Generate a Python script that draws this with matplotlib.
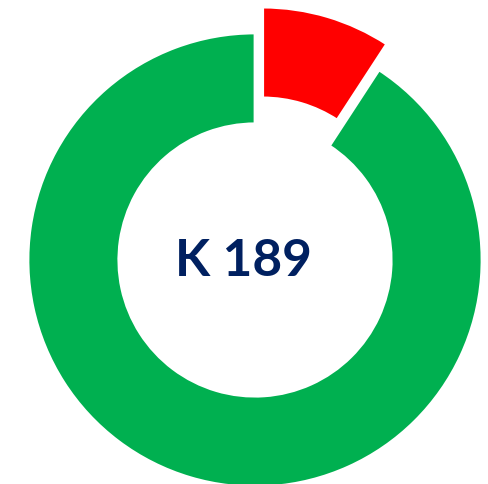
import matplotlib
matplotlib.use("Agg")
import matplotlib.pyplot as plt

# slice values (share of the ring)
labels = ["red", "green"]
values = [9.2, 90.8]
colors = ["#FF0000", "#00B050"]
center_label = "K 189"

fig = plt.figure(figsize=(4.88, 4.85), dpi=100)
ax = fig.add_axes([0, 0, 1, 1])
ax.set_xlim(0, 488)
ax.set_ylim(0, 485)
ax.set_aspect("equal")
ax.axis("off")

radius = 227
ax.pie(values, colors=colors, startangle=90, counterclock=False,
       center=(255, 224), radius=radius, explode=[27, 0],
       wedgeprops=dict(width=radius * 0.4, edgecolor="white", linewidth=2))

ax.set_xlim(0, 488)
ax.set_ylim(0, 485)

ax.text(243, 224, center_label, ha="center", va="center",
        fontsize=37, fontweight="bold", family="Lato", color="#002060")

fig.savefig("out.png", dpi=100)
